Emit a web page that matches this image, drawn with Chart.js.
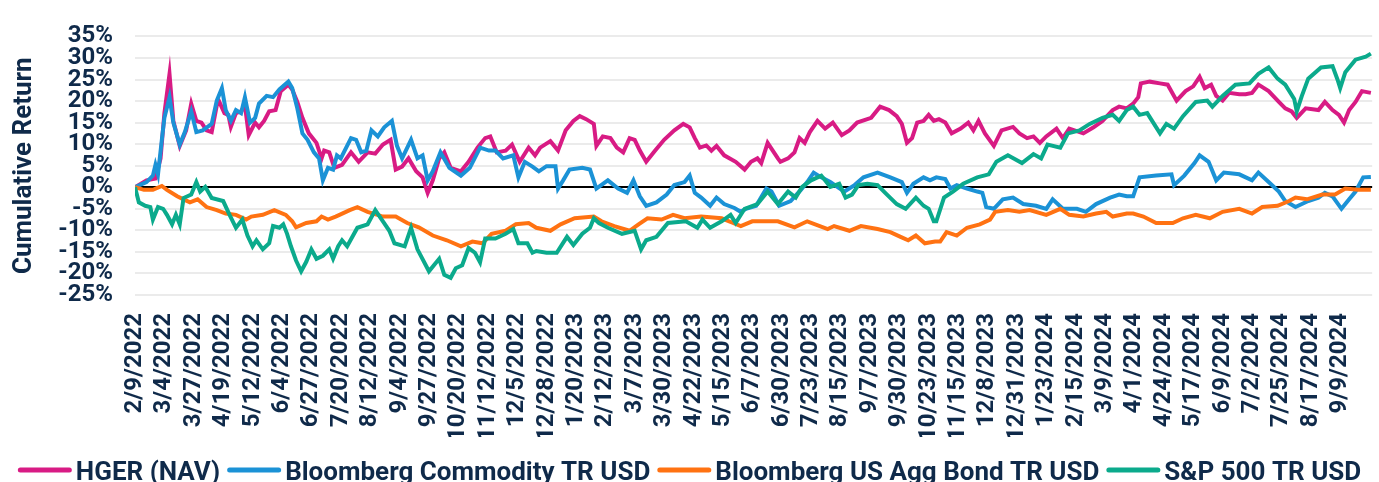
<!DOCTYPE html>
<html>
<head>
<meta charset="utf-8">
<script src="https://cdn.jsdelivr.net/npm/chart.js@4.4.1/dist/chart.umd.min.js"></script>
<style>
  html, body { margin: 0; padding: 0; background: #fff; }
  #wrap { width: 1379px; height: 482px; }
</style>
</head>
<body>
<div id="wrap"><canvas id="perfChart"></canvas></div>
<script>
// x = days since 2/9/2022, y = cumulative return in %
var hgerDays = [0, 9, 16, 20, 23, 27, 30, 35, 40, 44, 48, 52, 56, 60, 64, 66, 70, 73, 75, 79, 83, 86, 89, 94, 97, 101, 105, 110, 114, 120, 123, 127, 131, 136, 142, 146, 148, 152, 156, 162, 169, 175, 182, 188, 194, 200, 204, 209, 214, 220, 225, 229, 233, 238, 242, 247, 255, 261, 268, 274, 278, 283, 290, 295, 301, 308, 313, 317, 325, 331, 337, 343, 348, 353, 359, 361, 366, 372, 377, 382, 387, 391, 395, 400, 407, 414, 422, 429, 434, 438, 442, 447, 451, 455, 461, 470, 477, 482, 487, 490, 495, 499, 503, 505, 511, 516, 520, 524, 528, 534, 540, 546, 553, 559, 565, 576, 583, 590, 596, 600, 604, 608, 612, 617, 621, 625, 629, 634, 639, 646, 652, 656, 660, 665, 672, 678, 687, 692, 698, 703, 708, 713, 721, 726, 731, 742, 750, 757, 765, 770, 776, 781, 785, 787, 794, 802, 808, 815, 822, 828, 833, 837, 842, 846, 851, 856, 864, 869, 874, 879, 887, 895, 900, 905, 909, 916, 926, 931, 937, 942, 946, 950, 955, 960, 967];
var hgerReturns = [0, 1.6, 2.0, 6.7, 17.2, 26.3, 15.4, 9.6, 13.2, 19.4, 15.4, 15, 13.2, 12.8, 19, 19.8, 17.2, 16.8, 14, 17.2, 17.6, 19, 12.1, 15, 13.9, 15.4, 17.6, 17.9, 22.3, 23.8, 22.7, 19.8, 16.1, 12.5, 10.3, 6.7, 8.5, 8.1, 4.5, 5.2, 8.1, 5.9, 8.1, 7.8, 9.9, 11, 4.1, 4.8, 6.7, 3.7, 2.3, -1.3, 1.6, 6.7, 8.1, 4.5, 3.7, 5.9, 9.2, 11.4, 11.8, 8.1, 8.5, 9.9, 5.9, 9.2, 7.4, 9.2, 10.7, 8.5, 13.2, 15.4, 16.5, 15.8, 14.7, 9.6, 11.8, 11.4, 9.2, 8.1, 11.4, 11, 8.5, 5.9, 8.5, 11, 13.2, 14.7, 13.9, 11.4, 9.2, 9.7, 8.5, 9.6, 7.4, 5.9, 4.1, 5.9, 6.7, 5.6, 10.3, 8.5, 6.7, 5.9, 6.7, 8.1, 11.4, 10.3, 12.8, 15.4, 13.6, 15, 12.1, 13.2, 15, 16.1, 18.7, 17.9, 16.5, 14.7, 10.3, 11.4, 15, 15.4, 16.8, 15.4, 15.8, 15, 12.5, 13.6, 15, 13.2, 15.4, 12.5, 9.6, 13.2, 14, 12.5, 11.4, 11.8, 10.3, 11.8, 13.6, 11.4, 13.6, 12.5, 13.9, 15.4, 17.9, 18.7, 18.3, 19.4, 20.9, 24.1, 24.5, 24.1, 23.8, 20.1, 22.3, 23.4, 25.6, 23, 23.8, 21.2, 20.1, 21.9, 21.6, 21.6, 21.9, 23.8, 22.3, 19.8, 18.3, 17.6, 16.1, 18.3, 17.9, 19.8, 17.9, 16.8, 15, 17.9, 19.8, 22.3, 21.9];

var bcomDays = [0, 9, 14, 16, 18, 21, 23, 27, 30, 35, 39, 44, 48, 53, 60, 64, 68, 71, 75, 79, 83, 86, 90, 94, 97, 103, 108, 113, 120, 123, 127, 131, 135, 140, 144, 147, 151, 155, 158, 161, 169, 173, 177, 181, 185, 190, 195, 201, 205, 209, 216, 221, 225, 229, 233, 239, 246, 255, 262, 270, 277, 282, 288, 296, 300, 305, 311, 316, 322, 329, 331, 335, 340, 350, 356, 361, 370, 378, 385, 390, 395, 400, 408, 416, 422, 430, 434, 438, 443, 450, 455, 461, 469, 474, 478, 486, 494, 498, 504, 513, 521, 526, 531, 537, 544, 555, 563, 570, 581, 591, 600, 604, 609, 617, 622, 627, 634, 638, 643, 651, 659, 663, 666, 672, 679, 687, 695, 705, 713, 718, 726, 737, 744, 752, 763, 770, 776, 781, 786, 799, 811, 813, 821, 829, 833, 840, 846, 852, 864, 874, 879, 887, 895, 900, 908, 918, 926, 931, 937, 944, 950, 955, 961, 967];
var bcomReturns = [0, 1.2, 2.7, 5.2, 3, 11, 16.1, 20.9, 15, 9.9, 12.8, 17.6, 12.8, 13.2, 14.7, 20.1, 23, 17.9, 15.4, 17.9, 17.2, 20.9, 15, 16.1, 19.4, 21.2, 20.9, 22.7, 24.5, 23, 18.3, 12.5, 11, 8.1, 6.7, 1.6, 4.5, 4.1, 7.4, 6.7, 11.4, 11, 8.1, 8.5, 13.2, 11.8, 13.9, 15.4, 9.6, 6.7, 11, 6.7, 7.4, 1.6, 3.7, 8.1, 4.5, 2.7, 4.5, 9.2, 8.5, 8.5, 6.7, 7.4, 2.3, 5.9, 4.8, 3.7, 4.9, 4.9, -0.3, 1.6, 4.1, 4.5, 4.1, -0.3, 1.6, -0.3, -1.3, 1.6, -2.1, -4.3, -3.5, -1.7, 0.5, 1.2, 2.7, -1.3, -2.4, -4.3, -2.4, -3.9, -4.8, -5.7, -5, -4.3, -0.3, -1, -4.3, -3.2, -0.6, 1.2, 3.4, 2.3, 1.2, -1, 0.5, 2.3, 3.4, 2.3, 1.2, -1.3, 0.8, 2.3, 1.6, 2.3, 1.9, -0.3, 0.5, -0.3, -1, -1.3, -4.6, -5, -2.8, -2.4, -3.9, -4.3, -5, -2.8, -5, -5, -5.7, -3.9, -2.4, -1.7, -2.1, -2.1, 2.3, 2.7, 3, 0.5, 2.7, 5.6, 7.4, 5.9, 1.6, 3.4, 3, 1.6, 3.4, 1.2, -1, -3.2, -4.6, -3.2, -2.4, -1.3, -2.1, -5, -2.8, -1, 2.3, 2.4];

var aggDays = [0, 7, 14, 21, 25, 33, 38, 43, 49, 56, 64, 71, 79, 87, 91, 100, 109, 118, 123, 126, 134, 142, 146, 151, 157, 160, 168, 174, 182, 194, 204, 213, 222, 233, 244, 255, 264, 272, 279, 290, 298, 308, 314, 325, 333, 344, 359, 365, 375, 387, 394, 401, 412, 421, 430, 443, 459, 468, 474, 483, 503, 516, 526, 542, 547, 559, 568, 581, 591, 599, 605, 611, 618, 626, 630, 635, 643, 651, 661, 669, 673, 683, 692, 700, 713, 724, 731, 742, 752, 760, 765, 776, 781, 789, 799, 812, 820, 830, 841, 851, 864, 874, 882, 894, 903, 908, 917, 929, 939, 947, 957, 967];
var aggReturns = [0, -0.6, -0.6, 0.3, -0.6, -2.1, -2.8, -3.5, -2.8, -4.6, -5.3, -6.1, -6.4, -7.5, -6.8, -6.4, -5.3, -6.4, -7.9, -9.3, -8.3, -7.9, -6.8, -7.5, -6.8, -6.4, -5.3, -4.6, -5.7, -6.8, -6.8, -8.3, -9.3, -11.2, -12.3, -13.7, -12.6, -13, -10.8, -10.1, -8.6, -8.3, -9.4, -10.1, -8.6, -7.2, -6.8, -7.9, -9, -10.1, -8.6, -7.2, -7.5, -6.4, -7.2, -6.8, -7.2, -8.3, -9, -7.9, -7.9, -9.3, -7.9, -9.7, -9, -10.1, -9, -9.7, -10.4, -11.5, -12.3, -11.2, -13, -12.6, -12.6, -10.4, -11.2, -9.4, -8.6, -7.5, -5.7, -5.3, -5.7, -5.3, -6.4, -5, -6.4, -6.8, -6.1, -5.7, -6.8, -6.1, -6.1, -6.8, -8.3, -8.3, -7.2, -6.4, -7.2, -5.7, -5, -6.1, -4.6, -4.3, -3.2, -2.4, -2.8, -1.7, -1.7, -0.3, -0.6, -0.6];

var spxDays = [0, 3, 8, 12, 14, 18, 22, 25, 29, 32, 35, 38, 44, 48, 51, 55, 60, 69, 74, 79, 84, 88, 92, 95, 100, 105, 108, 113, 116, 119, 122, 126, 130, 134, 138, 142, 147, 152, 155, 159, 162, 166, 174, 182, 188, 194, 199, 203, 211, 216, 221, 230, 238, 242, 247, 251, 256, 261, 266, 270, 274, 282, 290, 296, 300, 307, 311, 314, 322, 330, 338, 343, 350, 356, 359, 363, 370, 381, 391, 396, 400, 408, 417, 431, 440, 444, 450, 459, 466, 470, 477, 487, 495, 503, 511, 517, 522, 529, 537, 544, 551, 556, 561, 566, 573, 581, 587, 596, 603, 611, 617, 621, 625, 627, 633, 640, 648, 659, 668, 674, 683, 694, 703, 709, 714, 724, 730, 739, 747, 757, 765, 770, 776, 781, 786, 792, 802, 807, 813, 820, 830, 839, 843, 851, 861, 872, 879, 887, 894, 900, 907, 909, 913, 918, 928, 937, 941, 943, 947, 955, 963, 967];
var spxReturns = [0, -3.5, -4.3, -4.6, -7.5, -4.6, -5, -6.4, -8.6, -6.4, -8.6, -2.5, -1.7, 1.2, -1, 0.1, -2.5, -3.2, -6.4, -9.4, -7.5, -11.2, -13.7, -12.3, -14.4, -13, -9, -9.4, -8.6, -10.8, -13.7, -17, -19.5, -17.3, -14.4, -16.6, -15.9, -14.4, -16.6, -13.7, -12.3, -13.7, -9.4, -8.6, -5.3, -7.9, -10.1, -13, -13.7, -9.4, -14.4, -19.5, -16.6, -20.3, -21, -18.8, -18.1, -14.1, -15.2, -17.4, -11.9, -11.9, -10.8, -9.7, -13, -13, -15.2, -14.8, -15.2, -15.2, -11.5, -13.4, -10.8, -9.4, -7.2, -8.3, -9.4, -10.8, -10.1, -14.4, -12.3, -11.5, -8.3, -7.9, -9.4, -7.5, -9.4, -7.9, -6.4, -8.3, -5, -3.9, -1, -3.9, -1, -2.4, 0.1, 1.6, 2.7, 0.1, 0.8, -2.4, -1.7, 0.5, 0.8, 0.5, -1.3, -3.9, -5, -2.4, -4.3, -5, -7.9, -7.9, -2.4, -1, 0.8, 2.3, 3, 5.9, 7.4, 5.6, 7.7, 6.7, 9.9, 9.2, 12.5, 13.2, 14.7, 16.1, 16.8, 15.4, 17.9, 18.7, 16.8, 17.2, 12.5, 14.7, 13.6, 16.5, 19.8, 20.1, 18.7, 21.2, 23.8, 24.1, 26.3, 27.8, 25.2, 23.8, 20.5, 17.6, 21.2, 25.2, 27.8, 28.1, 24.9, 23, 26.7, 29.6, 30.3, 31];

var tickLabels = ["2/9/2022", "3/4/2022", "3/27/2022", "4/19/2022", "5/12/2022", "6/4/2022", "6/27/2022", "7/20/2022", "8/12/2022", "9/4/2022", "9/27/2022", "10/20/2022", "11/12/2022", "12/5/2022", "12/28/2022", "1/20/2023", "2/12/2023", "3/7/2023", "3/30/2023", "4/22/2023", "5/15/2023", "6/7/2023", "6/30/2023", "7/23/2023", "8/15/2023", "9/7/2023", "9/30/2023", "10/23/2023", "11/15/2023", "12/8/2023", "12/31/2023", "1/23/2024", "2/15/2024", "3/9/2024", "4/1/2024", "4/24/2024", "5/17/2024", "6/9/2024", "7/2/2024", "7/25/2024", "8/17/2024", "9/9/2024"];

var seriesNames = ["HGER (NAV)", "Bloomberg Commodity TR USD", "Bloomberg US Agg Bond TR USD", "S&P 500 TR USD"];
var seriesColors = ["#d81b84", "#1b92d6", "#ff7212", "#0baa8c"];
var navy = "#0f2a4a";

var startDate = Date.UTC(2022, 1, 9);
function dayOf(label) {
  var p = label.split("/");
  return Math.round((Date.UTC(+p[2], +p[0] - 1, +p[1]) - startDate) / 86400000);
}
function points(days, vals) {
  return days.map(function (d, i) { return { x: d, y: vals[i] }; });
}

var allSeries = [
  points(hgerDays, hgerReturns),
  points(bcomDays, bcomReturns),
  points(aggDays, aggReturns),
  points(spxDays, spxReturns)
];

// legend drawn by hand: long line swatch right next to the text, like the original
var lineLegend = {
  id: "lineLegend",
  afterDraw: function (chart) {
    var c = chart.ctx;
    var sets = chart.data.datasets;
    var swatch = 54, gap = 4, spacing = 7;
    c.save();
    c.font = "bold 26px Roboto";
    var widths = sets.map(function (ds) { return c.measureText(ds.label).width; });
    var total = widths.reduce(function (a, w) { return a + w + swatch + gap; }, 0) + spacing * (sets.length - 1);
    var x = (chart.width - total) / 2;
    var lineY = 470, textY = 480;
    sets.forEach(function (ds, i) {
      c.strokeStyle = ds.borderColor;
      c.lineWidth = 5;
      c.lineCap = "round";
      c.beginPath();
      c.moveTo(x + 2.5, lineY);
      c.lineTo(x + swatch - 2.5, lineY);
      c.stroke();
      c.fillStyle = navy;
      c.textBaseline = "alphabetic";
      c.textAlign = "left";
      c.fillText(ds.label, x + swatch + gap, textY);
      x += swatch + gap + widths[i] + spacing;
    });
    c.restore();
  }
};

Chart.defaults.font.family = "Roboto";
Chart.defaults.font.weight = "bold";
Chart.defaults.color = navy;

var ctx = document.getElementById("perfChart").getContext("2d");
var perfChart = new Chart(ctx, {
  type: "line",
  data: {
    datasets: allSeries.map(function (pts, i) {
      return {
        label: seriesNames[i],
        data: pts,
        borderColor: seriesColors[i],
        backgroundColor: seriesColors[i],
        borderWidth: 4,
        pointRadius: 0,
        tension: 0,
        order: 4 - i // S&P drawn on top, HGER at the bottom
      };
    })
  },
  options: {
    responsive: true,
    maintainAspectRatio: false,
    animation: false,
    layout: { padding: { top: 20, right: 0, bottom: 45, left: 0 } },
    plugins: {
      tooltip: { enabled: false },
      legend: { display: false }
    },
    scales: {
      x: {
        type: "linear",
        min: 0,
        max: 968,
        grid: { display: false },
        border: { display: false },
        afterBuildTicks: function (axis) {
          axis.ticks = tickLabels.map(function (l) { return { value: dayOf(l) }; });
        },
        afterFit: function (axis) { axis.height = 142; },
        ticks: {
          autoSkip: false,
          minRotation: 90,
          maxRotation: 90,
          padding: 10,
          font: { size: 24 },
          callback: function (v, i) { return tickLabels[i]; }
        }
      },
      y: {
        min: -25,
        max: 35,
        border: { display: false },
        afterFit: function (axis) { axis.width = 135; },
        grid: {
          drawTicks: false,
          color: function (c) { return c.tick && c.tick.value === 0 ? "#000000" : "#ebebeb"; },
          lineWidth: 2
        },
        ticks: {
          autoSkip: false,
          stepSize: 5,
          padding: 22,
          font: { size: 24 },
          callback: function (v) { return v + "%"; }
        },
        title: {
          display: true,
          text: "Cumulative Return",
          color: navy,
          font: { size: 26, weight: "bold" },
          padding: { top: 9, bottom: 0 }
        }
      }
    }
  },
  plugins: [lineLegend]
});
</script>
</body>
</html>
